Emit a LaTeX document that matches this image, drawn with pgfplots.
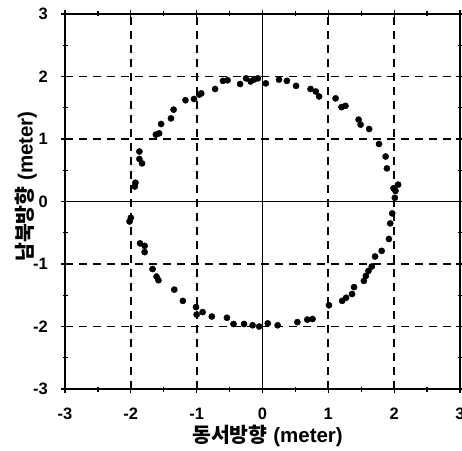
\documentclass[border=0pt]{standalone}
\usepackage{pgfplots}
\pgfplotsset{compat=1.18}
\usepackage{fontspec}
\setmainfont{Liberation Sans}
\newfontfamily\kr{Noto Sans CJK KR}
\begin{document}
\begin{tikzpicture}
\begin{axis}[
  scale only axis, width=395pt, height=375pt,
  xmin=-3, xmax=3, ymin=-3, ymax=3,
  xtick={-3,...,3}, ytick={-3,...,3},
  minor tick num=1,
  tick align=center,
  major tick length=8pt, minor tick length=5pt,
  every tick/.style={black, line width=1.2pt},
  axis line style={line width=2pt},
  grid=major,
  major grid style={dash pattern=on 8pt off 6pt, line width=1.8pt, black},
  /pgf/number format/assume math mode=true,
  tick label style={font=\fontsize{16.5}{18}\selectfont\bfseries, inner sep=0pt},
  xticklabel style={anchor=north, yshift=-15pt},
  yticklabel style={anchor=east, xshift=-13pt},
  xlabel={{\kr\bfseries 동서방향} (meter)},
  ylabel={{\kr\bfseries 남북방향} (meter)},
  label style={font=\fontsize{20.5}{22}\selectfont\bfseries, inner sep=0pt},
  xlabel style={at={(axis description cs:0.5,0)}, anchor=north, yshift=-36pt, xshift=5pt},
  ylabel style={at={(axis description cs:-0.071,0.54)}, anchor=south},
]
\draw[line width=1.8pt] (axis cs:0,-3) -- (axis cs:0,3);
\draw[line width=1.8pt] (axis cs:-3,0) -- (axis cs:3,0);
\addplot[only marks, mark=*, mark size=3.1pt, black] coordinates {
(-1.94,0.24) (-1.93,0.30) (-1.87,0.80) (-1.87,0.68) (-1.83,0.61)
(-1.62,1.07) (-1.57,1.09) (-1.54,1.24) (-1.39,1.33) (-1.35,1.47)
(-1.17,1.62) (-1.04,1.64) (-0.96,1.71) (-0.93,1.73) (-0.72,1.80)
(-0.60,1.93) (-0.53,1.94) (-0.34,1.88) (-0.25,1.97) (-0.18,1.92)
(-0.13,1.95) (-0.07,1.97) (0.05,1.89) (0.25,1.95) (0.37,1.93)
(0.51,1.85) (0.73,1.80) (0.81,1.76) (0.86,1.68) (1.11,1.65)
(1.20,1.51) (1.26,1.53) (1.46,1.31) (1.49,1.23) (1.62,1.16)
(1.77,0.92) (1.87,0.72) (1.89,0.53) (1.99,0.21) (2.06,0.27)
(-2.00,-0.26) (-2.02,-0.32) (-1.86,-0.67) (-1.79,-0.71) (-1.79,-0.81)
(-1.67,-1.08) (-1.61,-1.20) (-1.58,-1.26) (-1.34,-1.41) (-1.21,-1.59)
(-1.01,-1.69) (-1.00,-1.81) (-0.91,-1.77) (-0.77,-1.84) (-0.54,-1.86)
(-0.44,-1.96) (-0.28,-1.96) (-0.15,-1.98) (-0.05,-2.00) (0.08,-1.95)
(0.23,-1.98) (0.53,-1.93) (0.68,-1.89) (0.76,-1.88) (1.01,-1.66)
(1.21,-1.59) (1.27,-1.54) (1.36,-1.48) (1.39,-1.37) (1.54,-1.27)
(1.57,-1.19) (1.61,-1.11) (1.66,-1.04) (1.71,-0.88) (1.81,-0.79)
(1.92,-0.60) (1.94,-0.35) (1.97,-0.19) (2.01,0.06) (2.02,0.17)
};
\end{axis}
\pgfresetboundingbox
\useasboundingbox ([shift={(-65pt,-61pt)}]current axis.south west) rectangle ([shift={(2pt,14pt)}]current axis.north east);
\end{tikzpicture}
\end{document}
